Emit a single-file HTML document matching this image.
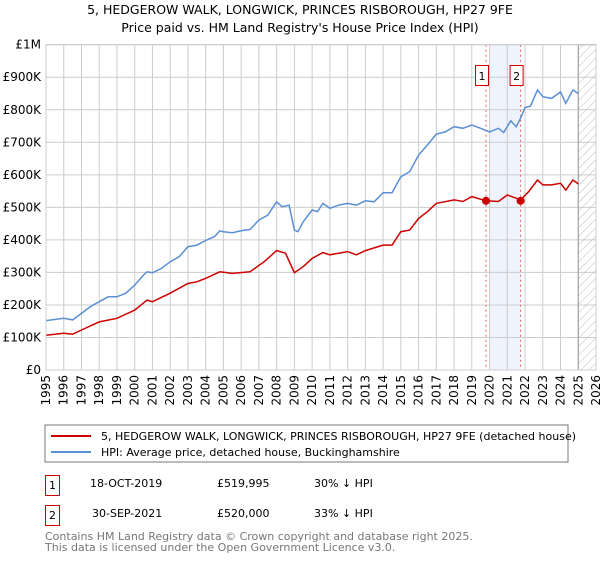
<!DOCTYPE html>
<html><head><meta charset="utf-8"><style>
body{margin:0;background:#fff;font-family:"Liberation Sans","DejaVu Sans",sans-serif}
svg text{font-family:"DejaVu Sans","Liberation Sans",sans-serif}
</style></head><body>
<svg id="c" width="600" height="560" xmlns="http://www.w3.org/2000/svg">
<defs><pattern id="hatch" width="6" height="6" patternUnits="userSpaceOnUse" patternTransform="rotate(45)"><line x1="0" y1="0" x2="0" y2="6" stroke="#bbb" stroke-width="1"/></pattern></defs>
<text x="300" y="14" text-anchor="middle" font-size="12.5" fill="#000">5, HEDGEROW WALK, LONGWICK, PRINCES RISBOROUGH, HP27 9FE</text>
<text x="300" y="32" text-anchor="middle" font-size="12.5" fill="#000">Price paid vs. HM Land Registry's House Price Index (HPI)</text>
<g id="plot"></g>
<rect x="45" y="425" width="523" height="37" fill="#fff" stroke="#777"/>
<line x1="51" y1="436" x2="91" y2="436" stroke="#cc0000" stroke-width="2"/>
<text x="101" y="440" font-size="11">5, HEDGEROW WALK, LONGWICK, PRINCES RISBOROUGH, HP27 9FE (detached house)</text>
<line x1="51" y1="452" x2="91" y2="452" stroke="#5b8fd4" stroke-width="2"/>
<text x="101" y="456" font-size="11">HPI: Average price, detached house, Buckinghamshire</text>
<g font-size="11">
<rect x="45.5" y="475.5" width="14" height="20" fill="#fff" stroke="#cc0000"/>
<text x="52.5" y="489" text-anchor="middle">1</text>
<text x="90" y="487">18-OCT-2019</text>
<text x="217" y="487">£519,995</text>
<text x="314" y="487">30% ↓ HPI</text>
<rect x="45.5" y="505.5" width="14" height="20" fill="#fff" stroke="#cc0000"/>
<text x="52.5" y="519" text-anchor="middle">2</text>
<text x="92" y="517">30-SEP-2021</text>
<text x="217" y="517">£520,000</text>
<text x="314" y="517">33% ↓ HPI</text>
</g>
<text x="45" y="540" font-size="11" fill="#777">Contains HM Land Registry data © Crown copyright and database right 2025.</text>
<text x="45" y="551" font-size="11" fill="#777">This data is licensed under the Open Government Licence v3.0.</text>
</svg>
<script>
const yTicks=[0,100000,200000,300000,400000,500000,600000,700000,800000,900000,1000000];
const yTickLabels=["£0","£100K","£200K","£300K","£400K","£500K","£600K","£700K","£800K","£900K","£1M"];
const xYears=[1995,1996,1997,1998,1999,2000,2001,2002,2003,2004,2005,2006,2007,2008,2009,2010,2011,2012,2013,2014,2015,2016,2017,2018,2019,2020,2021,2022,2023,2024,2025,2026];
const hpiT=[1995,1996,1996.5,1997,1997.5,1998,1998.5,1999,1999.5,2000,2000.5,2000.7,2001,2001.5,2002,2002.5,2003,2003.5,2004,2004.5,2004.8,2005,2005.5,2006,2006.5,2007,2007.5,2008,2008.3,2008.7,2009,2009.2,2009.5,2010,2010.3,2010.6,2011,2011.5,2012,2012.5,2013,2013.5,2014,2014.5,2015,2015.5,2016,2016.5,2017,2017.5,2018,2018.5,2019,2019.5,2020,2020.5,2020.8,2021.2,2021.5,2021.75,2022,2022.3,2022.7,2023,2023.5,2024,2024.3,2024.7,2025];
const hpiV=[152,159,154,174,195,210,225,225,236,261,292,302,299,312,333,348,379,384,398,410,428,425,422,428,432,461,476,517,502,507,430,425,456,492,487,512,497,507,512,507,520,517,545,545,594,610,661,692,725,732,748,743,753,743,732,743,730,766,748,774,807,811,861,840,835,855,820,861,850];
const ppT=[1995,1996,1996.5,1997,1998,1999,2000,2000.7,2001,2002,2003,2003.5,2004,2004.8,2005.5,2006.5,2007.3,2008,2008.5,2009,2009.5,2010,2010.6,2011,2012,2012.5,2013,2014,2014.5,2015,2015.5,2016,2016.5,2017,2018,2018.5,2019,2019.8,2020.5,2021,2021.5,2021.75,2022.2,2022.7,2023,2023.5,2024,2024.3,2024.7,2025];
const ppV=[107,113,110,123,148,159,184,215,210,236,266,271,282,302,297,302,333,367,359,299,318,343,361,354,364,354,367,384,384,425,430,466,487,512,523,518,533,520,518,538,528,523,548,584,569,569,574,553,584,572];
const saleT=[2019.8,2021.75];
const saleV=[519995,520000];
const saleLabels=["1","2"];
const X0=46,X1=596,Y0=370,Y1=44.7;
const x=t=>X0+(t-1995)*(X1-X0)/31;
const y=v=>Y0-v*(Y0-Y1)/1000000;
const NS="http://www.w3.org/2000/svg";
const g=document.getElementById('plot');
function mk(tag,attrs){const e=document.createElementNS(NS,tag);for(const k in attrs)e.setAttribute(k,attrs[k]);g.appendChild(e);return e;}
let e;
e=mk('rect',{x:x(2020),y:Y1,width:x(2021.75)-x(2020),height:Y0-Y1,fill:'#eef3fc'});


yTicks.forEach((v,i)=>{
 e=mk('line',{x1:X0,x2:X1,y1:y(v),y2:y(v),stroke:'#ccc'});
 
 
 e=mk('text',{x:X0-5,y:y(v)+4,'text-anchor':'end','font-size':'12',fill:'#000'});
 e.textContent=yTickLabels[i];
 
 
});
xYears.forEach(t=>{
 e=mk('line',{x1:x(t),x2:x(t),y1:Y1,y2:Y0,stroke:'#ccc'});
 
 
 e=mk('text',{x:0,y:0,'text-anchor':'end','font-size':'12',transform:`translate(${x(t)+4},375) rotate(-90)`});
 e.textContent=t;
 
 
});
e=mk('rect',{x:x(2025),y:Y1,width:X1-x(2025),height:Y0-Y1,fill:'url(#hatch)',stroke:'#999'});


saleT.forEach((t,i)=>{
 e=mk('line',{x1:x(t),x2:x(t),y1:Y1,y2:Y0,stroke:'#e06060','stroke-dasharray':'2,3'});
 
 
});
function path(T,V,color,name){
 const d=T.map((t,i)=>(i?'L':'M')+x(t).toFixed(1)+','+y(V[i]*1000).toFixed(1)).join('');
 e=mk('path',{d:d,fill:'none',stroke:color,'stroke-width':1.5});
 
 
}
path(hpiT,hpiV,'#5b8fd4','hpi-line');
path(ppT,ppV,'#cc0000','property-line');
saleT.forEach((t,i)=>{
 e=mk('circle',{cx:x(t),cy:y(saleV[i]),r:4,fill:'#cc0000'});
 
 
 e=mk('rect',{x:x(t)-10.5,y:65.5,width:13,height:20,fill:'#fff',stroke:'#cc0000'});
 
 
 e=mk('text',{x:x(t)-4,y:80,'text-anchor':'middle','font-size':'11'});
 e.textContent=saleLabels[i];
 
 
});
e=mk('rect',{x:X0,y:Y1,width:X1-X0,height:Y0-Y1,fill:'none',stroke:'#ccc'});


</script>
</body></html>
